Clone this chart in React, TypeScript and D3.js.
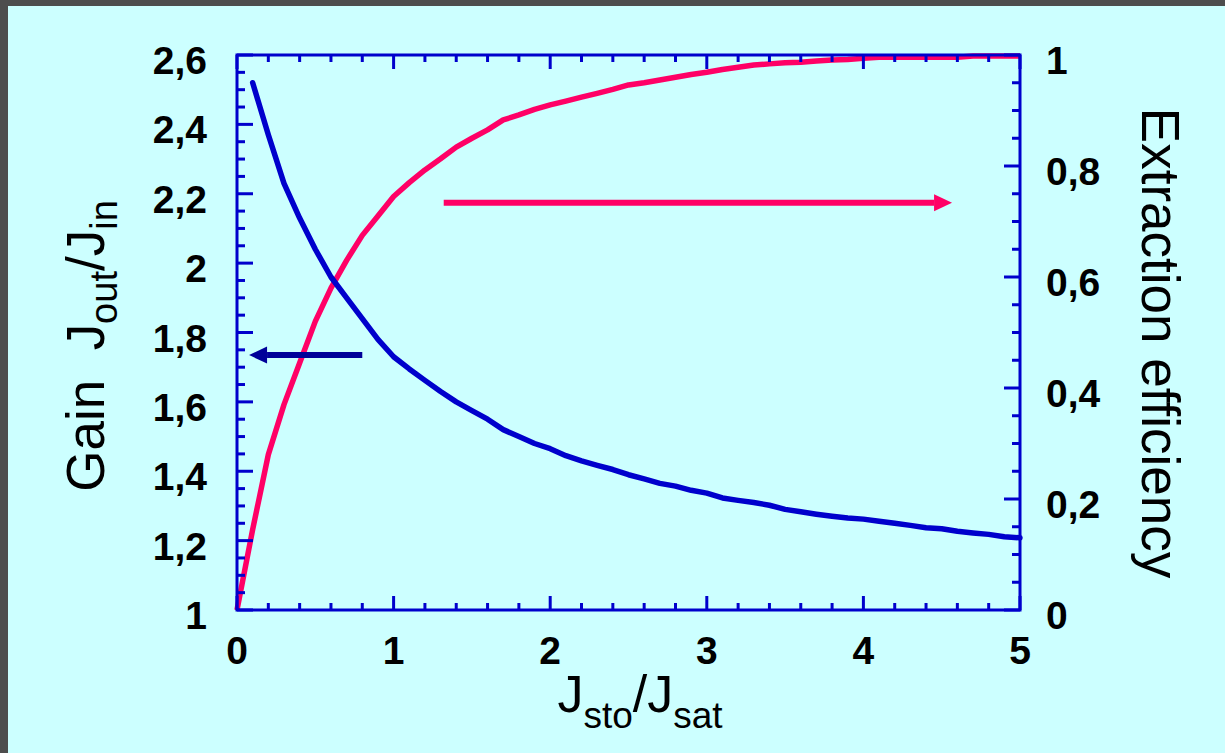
import * as React from "react";
import * as d3 from "d3";

// J_sto / J_sat sampling
const jsto = [
  0, 0.1, 0.2, 0.3, 0.4, 0.5, 0.6, 0.7, 0.8, 0.9, 1.0, 1.1, 1.2, 1.3, 1.4, 1.5, 1.6, 1.7,
  1.8, 1.9, 2.0, 2.1, 2.2, 2.3, 2.4, 2.5, 2.6, 2.7, 2.8, 2.9, 3.0, 3.1, 3.2, 3.3, 3.4,
  3.5, 3.6, 3.7, 3.8, 3.9, 4.0, 4.1, 4.2, 4.3, 4.4, 4.5, 4.6, 4.7, 4.8, 4.9, 5.0,
];

// gain J_out/J_in (starts at 0.1)
const gain = [
  null, 2.52, 2.37, 2.23, 2.13, 2.04, 1.96, 1.9, 1.84, 1.78, 1.73, 1.695, 1.662, 1.63, 1.6,
  1.575, 1.55, 1.52, 1.5, 1.48, 1.465, 1.445, 1.43, 1.417, 1.405, 1.39, 1.378, 1.365,
  1.357, 1.345, 1.337, 1.323, 1.316, 1.31, 1.302, 1.29, 1.283, 1.276, 1.27, 1.265, 1.262,
  1.256, 1.25, 1.244, 1.237, 1.234, 1.227, 1.222, 1.218, 1.211, 1.208,
];

// extraction efficiency
const efficiency = [
  0, 0.145, 0.28, 0.37, 0.445, 0.52, 0.58, 0.63, 0.675, 0.71, 0.745, 0.77, 0.793, 0.813,
  0.834, 0.85, 0.865, 0.883, 0.892, 0.902, 0.91, 0.917, 0.924, 0.931, 0.938, 0.946, 0.95,
  0.955, 0.96, 0.965, 0.969, 0.974, 0.978, 0.982, 0.984, 0.986, 0.987, 0.989, 0.991,
  0.992, 0.994, 0.996, 0.996, 0.996, 0.996, 0.996, 0.996, 0.998, 0.998, 0.998, 0.998,
];

const xTicks = [0, 1, 2, 3, 4, 5];
const gainTicks = [1, 1.2, 1.4, 1.6, 1.8, 2, 2.2, 2.4, 2.6];
const effTicks = [0, 0.2, 0.4, 0.6, 0.8, 1];

const W = 1225;
const H = 753;
const left = 237, right = 1020, top = 55, bottom = 610;
const axisColor = "#0000cc";
const fmt = (v: number) => String(+v.toFixed(2)).replace(".", ",");

export default function App() {
  const x = d3.scaleLinear().domain([0, 5]).range([left, right]);
  const yG = d3.scaleLinear().domain([1, 2.6]).range([bottom, top]);
  const yE = d3.scaleLinear().domain([0, 1]).range([bottom, top]);

  const gainLine = d3
    .line<number>()
    .defined((_, i) => gain[i] != null)
    .x((d) => x(d))
    .y((_, i) => yG(gain[i] as number));
  const effLine = d3
    .line<number>()
    .x((d) => x(d))
    .y((_, i) => yE(efficiency[i]));

  const xMinor = d3.range(0, 5.001, 0.2);
  const gMinor = d3.range(1, 2.6001, 0.05);
  const eMinor = d3.range(0, 1.0001, 0.05);

  const tickStyle = { stroke: axisColor, strokeWidth: 3 };
  const labelFont = "Arial, 'Liberation Sans', sans-serif";

  return (
    <div style={{ position: "fixed", left: 0, top: 0 }}>
      <svg width={W} height={H} style={{ display: "block" }}>
        <rect width={W} height={H} fill="#4d4d4d" />
        <rect x={8} y={6} width={W - 8} height={H - 6} fill="#ccffff" />

        {/* curves */}
        <path d={effLine(jsto) || ""} fill="none" stroke="#ff0066" strokeWidth={5.5} strokeLinejoin="round" />
        <path d={gainLine(jsto) || ""} fill="none" stroke="#0000cc" strokeWidth={5.5} strokeLinejoin="round" strokeLinecap="round" />

        {/* frame */}
        <rect x={left} y={top} width={right - left} height={bottom - top} fill="none" stroke={axisColor} strokeWidth={3} />

        {/* x ticks, bottom and top */}
        {xMinor.map((v, i) => {
          const major = xTicks.some((t) => Math.abs(t - v) < 1e-6);
          const len = major ? 14 : 7;
          return (
            <g key={"xt" + i}>
              <line x1={x(v)} x2={x(v)} y1={bottom} y2={bottom - len} {...tickStyle} />
              <line x1={x(v)} x2={x(v)} y1={top} y2={top + len} {...tickStyle} />
            </g>
          );
        })}
        {/* left ticks */}
        {gMinor.map((v, i) => {
          const major = gainTicks.some((t) => Math.abs(t - v) < 1e-6);
          return <line key={"gt" + i} x1={left} x2={left + (major ? 16 : 8)} y1={yG(v)} y2={yG(v)} {...tickStyle} />;
        })}
        {/* right ticks */}
        {eMinor.map((v, i) => {
          const major = effTicks.some((t) => Math.abs(t - v) < 1e-6);
          return <line key={"et" + i} x1={right} x2={right - (major ? 16 : 8)} y1={yE(v)} y2={yE(v)} {...tickStyle} />;
        })}

        {/* tick labels */}
        <g fontFamily={labelFont} fontWeight="bold" fontSize={39} fill="#000">
          {xTicks.map((t) => (
            <text key={"xl" + t} x={x(t)} y={bottom + 54} textAnchor="middle">{fmt(t)}</text>
          ))}
          {gainTicks.map((t) => (
            <text key={"gl" + t} x={207} y={yG(t) + 19} textAnchor="end">{fmt(t)}</text>
          ))}
          {effTicks.map((t) => (
            <text key={"el" + t} x={1046} y={yE(t) + 19} textAnchor="start">{fmt(t)}</text>
          ))}
        </g>

        {/* arrows */}
        <Arrow x1={x(0.8)} x2={x(0.077)} y={yG(1.735)} color="#000099" />
        <Arrow x1={x(1.32)} x2={x(4.566)} y={yE(0.734)} color="#ff0066" />

        {/* axis titles */}
        <g fontFamily={labelFont} fill="#000">
          <text x={640} y={712} textAnchor="middle" fontSize={52}>
            J<tspan fontSize={37} dy={16}>sto</tspan>
            <tspan dy={-16}>/J</tspan>
            <tspan fontSize={37} dy={16}>sat</tspan>
          </text>
          <text transform="translate(104,346) rotate(-90)" textAnchor="middle" fontSize={53}>
            Gain{"\u00a0\u00a0"}J<tspan fontSize={38} dy={13}>out</tspan>
            <tspan dy={-13}>/J</tspan>
            <tspan fontSize={38} dy={13}>in</tspan>
          </text>
          <text transform="translate(1142,343) rotate(90)" textAnchor="middle" fontSize={53}>
            Extraction efficiency
          </text>
        </g>
      </svg>
    </div>
  );
}

function Arrow({ x1, x2, y, color }: { x1: number; x2: number; y: number; color: string }) {
  const dir = Math.sign(x2 - x1);
  const headLen = 18;
  const headHalf = 8.5;
  const base = x2 - dir * headLen;
  return (
    <g>
      <line x1={x1} x2={base} y1={y} y2={y} stroke={color} strokeWidth={6} />
      <path d={`M${x2},${y} L${base},${y - headHalf} L${base},${y + headHalf} Z`} fill={color} />
    </g>
  );
}
